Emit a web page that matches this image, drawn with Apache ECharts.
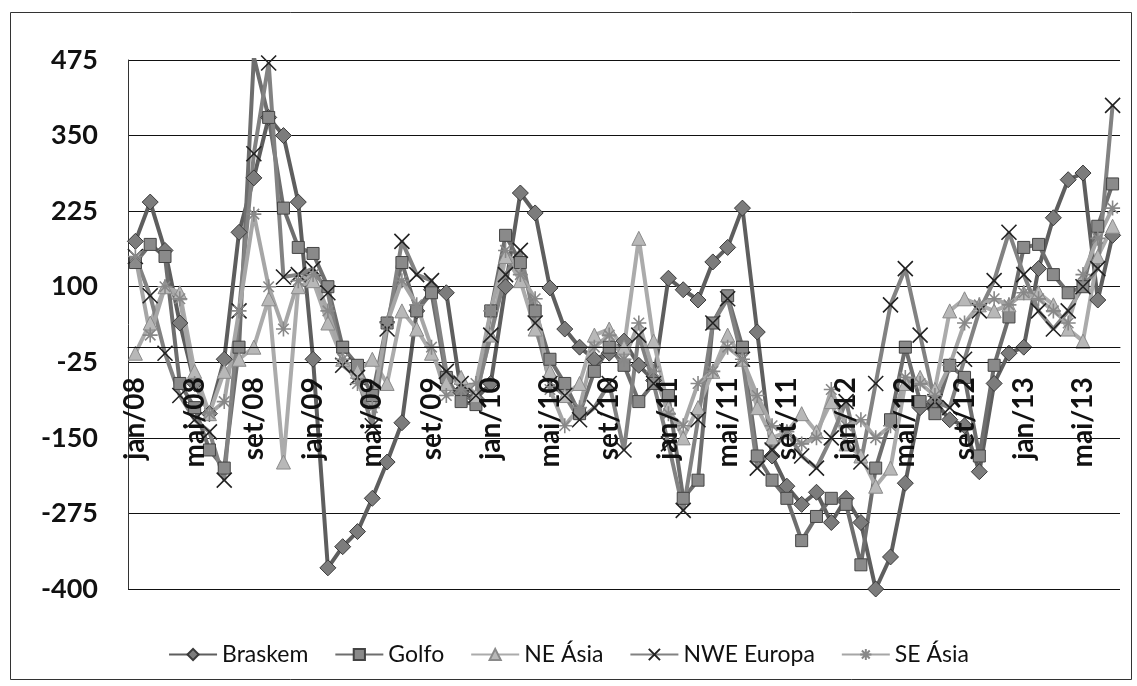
<!DOCTYPE html>
<html><head><meta charset="utf-8">
<script src="https://cdn.jsdelivr.net/npm/echarts@6/dist/echarts.min.js"></script>
<style>html,body{margin:0;padding:0;background:#fff}#c{width:1137px;height:686px}</style>
</head><body><div id="c"></div>
<script>
const months = ['jan','fev','mar','abr','mai','jun','jul','ago','set','out','nov','dez'];
const categories = [];
for (let y = 8; y <= 13; y++) for (let m = 0; m < 12; m++) {
  if (y === 13 && m > 6) break;
  categories.push(months[m] + '/' + String(y).padStart(2, '0'));
}
const yTicks = { min: -400, max: 475, interval: 125 };

const braskem = [175,240,160,40,-60,-110,-20,190,280,380,350,240,-20,-365,-330,-305,-250,-190,-125,60,95,90,-75,-85,-60,100,255,222,98,30,0,-20,-10,10,-30,-55,114,95,78,141,165,230,25,-180,-230,-260,-240,-290,-250,-290,-400,-347,-225,-100,-90,-120,-130,-206,-60,-10,0,130,214,277,288,78,185];
const golfo = [140,170,150,-60,-100,-170,-200,0,480,380,230,165,155,100,0,-30,-80,40,140,60,90,-50,-90,-95,60,185,140,60,-20,-60,-110,-40,0,-30,-90,-60,-80,-250,-220,40,85,0,-180,-220,-250,-320,-280,-250,-260,-360,-200,-120,0,-90,-110,-30,-50,-180,-30,50,165,170,120,90,100,200,270];
const neAsia = [-10,40,100,90,-40,-110,-40,-20,0,80,-190,100,110,40,-20,-40,-20,-60,60,30,-10,-60,-50,-80,20,150,110,30,-40,-80,-60,20,30,0,180,10,-100,-150,-100,-40,20,-20,-100,-150,-140,-110,-140,-90,-160,-180,-230,-200,-60,-50,-70,60,80,70,60,70,90,90,70,30,10,150,200];
const nweEuropa = [150,85,-10,-80,-120,-140,-220,60,320,470,116,120,130,90,-30,-50,-130,30,175,120,110,-40,-60,-80,20,120,160,40,-60,-80,-120,-100,-60,-170,20,-60,-160,-270,-120,40,80,-20,-200,-170,-140,-180,-200,-150,-90,-190,-60,70,130,20,-90,-100,-20,60,110,190,120,60,30,60,100,130,400];
const seAsia = [150,20,100,80,-60,-110,-90,60,220,100,30,110,120,60,-20,-60,-100,40,110,70,0,-80,-70,-60,60,160,120,80,-70,-130,-100,0,20,-20,40,-40,-110,-130,-60,-40,0,-20,-80,-130,-140,-160,-150,-70,-130,-120,-150,-130,-50,-60,-80,-30,40,70,80,70,90,80,60,40,120,180,230];

const FONT = 'Lato, "Open Sans", sans-serif';
const X_PATH = 'path://M0,0L10,10M10,0L0,10';
const STAR_PATH = 'path://M5,0L5,10M0,5L10,5M1.5,1.5L8.5,8.5M8.5,1.5L1.5,8.5';

function mk(name, data, line, symbol, size, fill, border, bw) {
  return {
    name, type: 'line', data, symbol, symbolSize: size, showAllSymbol: true,
    lineStyle: { color: line, width: 4 },
    itemStyle: { color: fill, borderColor: border, borderWidth: bw },
    emphasis: { disabled: true }, animation: false
  };
}

const plotTop = 60, plotBottom = 589;
const zeroY = plotTop + (yTicks.max - 0) / (yTicks.max - yTicks.min) * (plotBottom - plotTop);

const chart = echarts.init(document.getElementById('c'));
chart.setOption({
  animation: false,
  backgroundColor: '#fff',
  graphic: [{ type: 'rect', shape: { x: 10.5, y: 12.5, width: 1121, height: 667 },
    style: { fill: 'none', stroke: '#333', lineWidth: 1 }, silent: true }],
  grid: { left: 128, right: 17, top: plotTop, bottom: 686 - plotBottom, containLabel: false, outerBoundsMode: 'none' },
  legend: {
    top: 638, left: 'center', itemWidth: 48, itemHeight: 14, itemGap: 26,
    textStyle: { fontFamily: FONT, fontSize: 23, color: '#111' },
    data: ['Braskem','Golfo','NE Ásia','NWE Europa','SE Ásia']
  },
  xAxis: {
    type: 'category', data: categories, boundaryGap: true, position: 'bottom', z: 10,
    offset: -(plotBottom - zeroY),
    axisLine: { onZero: false, lineStyle: { color: '#111', width: 1 } },
    axisTick: { show: false },
    axisLabel: { interval: 3, rotate: 90, margin: 30, fontFamily: FONT, fontWeight: 'bold', fontSize: 28, color: '#111' },
    splitLine: { show: false }
  },
  yAxis: {
    type: 'value', min: yTicks.min, max: yTicks.max, interval: yTicks.interval,
    axisLine: { show: true, onZero: false, lineStyle: { color: '#333', width: 1 } },
    axisTick: { show: false },
    axisLabel: { margin: 30, fontFamily: FONT, fontWeight: 'bold', fontSize: 27, color: '#111' },
    splitLine: { lineStyle: { color: '#111', width: 1.2 } }
  },
  series: [
    mk('Braskem', braskem, '#5e5e5e', 'diamond', 16, '#7c7c7c', '#3a3a3a', 1),
    mk('Golfo', golfo, '#6e6e6e', 'rect', 12, '#8a8a8a', '#444', 1),
    mk('NE Ásia', neAsia, '#ababab', 'triangle', 14, '#b8b8b8', '#8a8a8a', 1),
    mk('NWE Europa', nweEuropa, '#828282', X_PATH, 15, '#222', '#222', 1.6),
    mk('SE Ásia', seAsia, '#a6a6a6', STAR_PATH, 15, '#888', '#888', 1.6)
  ]
});
</script></body></html>
